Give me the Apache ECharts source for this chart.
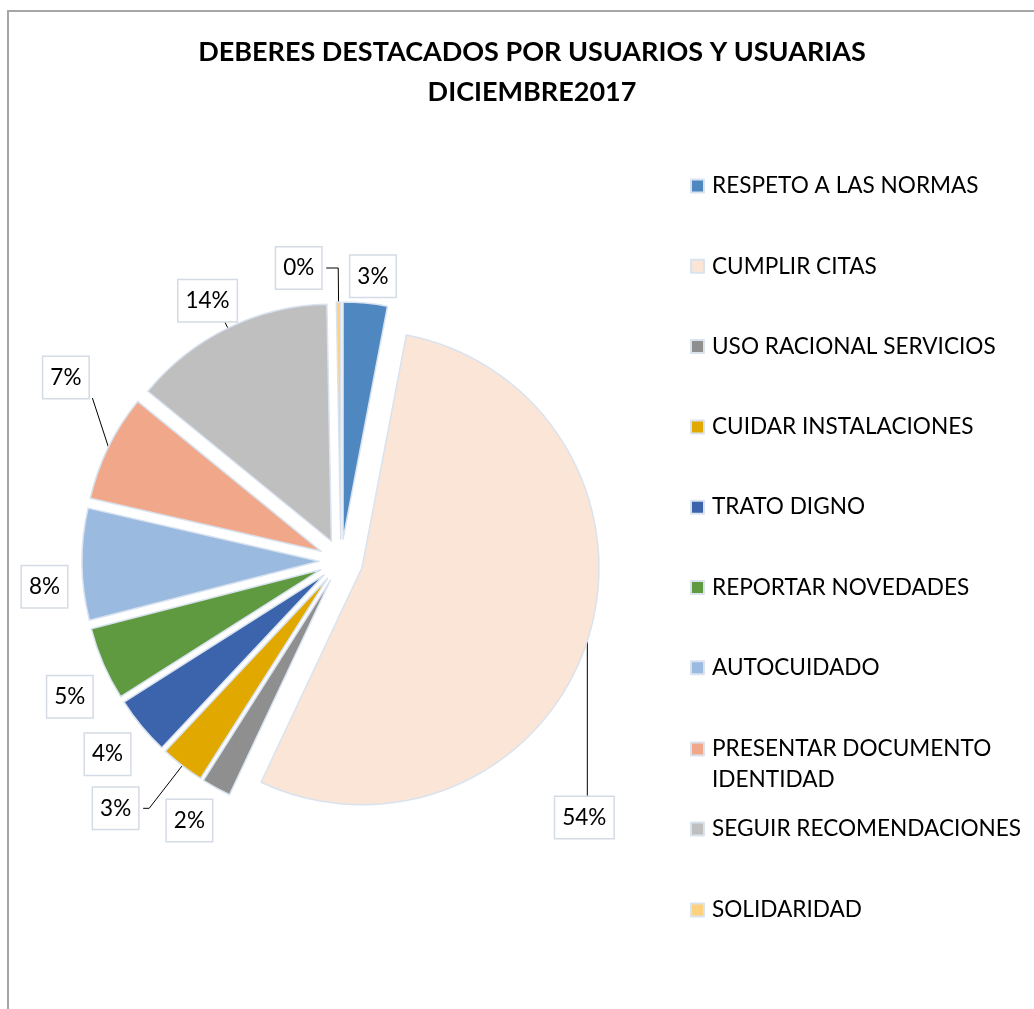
<!DOCTYPE html>
<html>
<head>
<meta charset="utf-8">
<script src="https://cdn.jsdelivr.net/npm/echarts@6/dist/echarts.min.js"></script>
<style>
  html, body { margin: 0; padding: 0; background: #fff; }
  #frame {
    position: absolute; left: 7px; top: 10px; width: 1040px; height: 1010px;
    border-top: 2px solid #a6a6a6; border-left: 2px solid #a6a6a6;
  }
  #chart { position: absolute; left: 0; top: 0; width: 1034px; height: 1009px; }
</style>
</head>
<body>
<div id="frame"></div>
<div id="chart"></div>
<script>
const categories = [
  'RESPETO A LAS NORMAS',
  'CUMPLIR CITAS',
  'USO RACIONAL SERVICIOS',
  'CUIDAR INSTALACIONES',
  'TRATO DIGNO',
  'REPORTAR NOVEDADES',
  'AUTOCUIDADO',
  'PRESENTAR DOCUMENTO IDENTIDAD',
  'SEGUIR RECOMENDACIONES',
  'SOLIDARIDAD',
]
// porcentajes
const values = [3.0, 54.0, 2.0, 3.0, 4.0, 5.0, 7.6, 7.3, 13.8, 0.3]
const colors = [
  '#4f88c0', '#fbe5d6', '#8f8f8f', '#e1a900', '#3b64ad',
  '#5f9a40', '#9abae0', '#f1a88a', '#bfbfbf', '#fed17f',
]

// colocación de etiquetas (largo de guías, alineación, desplazamientos)
const labelSpots = [
  { len: 27, len2: 0, line: false, align: 'center' },
  { len: 0, len2: 0, line: true, align: 'center', valign: 'top', dx: -8, dy: 156, bend: [0, 156] },
  { len: 37, len2: 4, line: false, align: 'center' },
  { len: 54, len2: 6, line: true },
  { len: 44, len2: 0, line: false, align: 'center', gap: 0 },
  { len: 31, len2: 0, line: false, align: 'center', valign: 'top' },
  { len: 8, len2: 2, line: false, valign: 'top', dy: 2 },
  { len: 0, len2: 0, line: true, align: 'right', valign: 'bottom', dx: -15, dy: -49, bend: [-16, -49] },
  { len: 12, len2: 10, line: true, align: 'center', valign: 'bottom', dy: 4 },
  { len: 34, len2: 12, line: true },
]

const FONT = 'Lato, "Liberation Sans", sans-serif'
const sliceBorder = { borderColor: '#d9e3f0', borderWidth: 1.5 }

const chart = echarts.init(document.getElementById('chart'), null, { renderer: 'canvas' })

const seriesData = categories.map((name, i) => {
  const s = labelSpots[i]
  return {
    name,
    value: values[i],
    selected: true,
    itemStyle: { color: colors[i] },
    labelLine: { show: s.line, length: s.len, length2: s.len2 },
    label: { distanceToLabelLine: s.gap ?? 5 },
  }
})

const legendBase = {
  orient: 'vertical',
  left: 690,
  padding: 0,
  icon: 'rect',
  itemWidth: 13,
  itemHeight: 13,
  selectedMode: false,
  textStyle: {
    fontFamily: FONT, fontSize: 22.6, color: '#000', lineHeight: 31, padding: [0, 0, 0, 3],
  },
}

chart.setOption({
  animation: false,
  title: {
    text: 'DEBERES DESTACADOS POR USUARIOS Y USUARIAS\nDICIEMBRE2017',
    left: 527,
    textAlign: 'center',
    top: 27,
    textStyle: { fontFamily: FONT, fontSize: 27, fontWeight: 'bold', color: '#000', lineHeight: 40 },
  },
  legend: [
    { ...legendBase, top: 170.5, itemGap: 49.3, data: categories.slice(0, 7) },
    {
      ...legendBase,
      top: 702.5,
      data: categories.slice(7, 8),
      // línea vacía arriba para que el icono quede a la altura de la primera línea
      formatter: (n) => '\u00a0\n' + n.replace('DOCUMENTO ', 'DOCUMENTO\n'),
    },
    { ...legendBase, top: 813.5, itemGap: 50, data: categories.slice(8) },
  ],
  series: [
    {
      type: 'pie',
      center: [341, 561],
      radius: 237,
      startAngle: 90,
      clockwise: true,
      selectedMode: 'multiple',
      selectedOffset: 22,
      avoidLabelOverlap: false,
      itemStyle: sliceBorder,
      select: { itemStyle: sliceBorder },
      emphasis: { disabled: true },
      label: {
        show: true,
        position: 'outside',
        formatter: (p) => Math.round(p.percent) + '%',
        fontFamily: FONT,
        fontSize: 22.5,
        color: '#000',
        backgroundColor: '#fff',
        borderColor: '#d5dbe5',
        borderWidth: 1.5,
        padding: [9, 7, 9, 7],
      },
      labelLine: { lineStyle: { color: '#000', width: 1 } },
      labelLayout: (params) => {
        const s = labelSpots[params.dataIndex]
        const out = {}
        if (s.align) out.align = s.align
        if (s.valign) out.verticalAlign = s.valign
        if (s.dx) out.dx = s.dx
        if (s.dy) out.dy = s.dy
        if (s.bend && params.labelLinePoints) {
          const a = params.labelLinePoints[0]
          out.labelLinePoints = [a, [a[0] + s.bend[0], a[1] + s.bend[1]]]
        }
        return out
      },
      data: seriesData,
    },
  ],
})
</script>
</body>
</html>
